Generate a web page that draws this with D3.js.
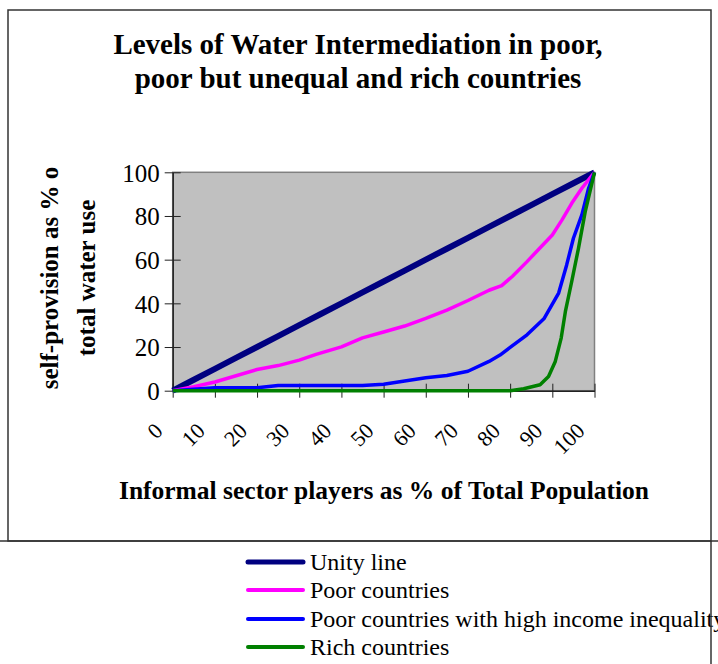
<!DOCTYPE html>
<html>
<head>
<meta charset="utf-8">
<script src="https://cdn.jsdelivr.net/npm/d3@7"></script>
<style>
html,body{margin:0;padding:0;background:#fff;overflow:hidden;}
svg{display:block;}
text{font-family:"Liberation Serif","DejaVu Serif",serif;fill:#000;}
</style>
</head>
<body>
<svg id="chart" width="718" height="664"></svg>
<script>
// ---- data ----
const titleLines = ["Levels of Water Intermediation in poor,", "poor but unequal and rich countries"];
const yTitleLines = ["self-provision as % o", "total water use"];
const xTitle = "Informal sector players as % of Total Population";
const xTicks = [0, 10, 20, 30, 40, 50, 60, 70, 80, 90, 100];
const yTicks = [0, 20, 40, 60, 80, 100];

const seriesNames = ["Unity line", "Poor countries", "Poor countries with high income inequality", "Rich countries"];
const seriesColors = ["#000080", "#ff00ff", "#0000ff", "#008000"];

const unityX = [0, 5, 10, 15, 20, 25, 30, 35, 40, 45, 50, 55, 60, 65, 70, 75, 80, 85, 90, 95, 100];
const unityY = [0, 5, 10, 15, 20, 25, 30, 35, 40, 45, 50, 55, 60, 65, 70, 75, 80, 85, 90, 95, 100];

const poorX = [0, 5, 10, 20, 25, 30, 34, 40, 45, 50, 55, 60, 65, 70, 75, 78, 80.5, 84, 87, 90, 92.3, 94.6, 97, 100];
const poorY = [0, 1.8, 4.0, 9.7, 11.5, 14.0, 16.6, 20.1, 24.2, 26.9, 29.6, 33.1, 36.9, 41.3, 46.0, 48.1, 52.3, 59.1, 65.2, 71.3, 78.2, 85.8, 92.7, 100];

const ineqX = [0, 10, 20, 25, 45, 50, 55, 60, 65, 70, 75, 77.6, 80, 84, 88, 91.5, 93.4, 95, 97, 98.6, 100];
const ineqY = [0, 1.3, 1.3, 2.4, 2.4, 3.0, 4.4, 5.9, 7.0, 8.9, 13.4, 16.3, 19.8, 25.6, 32.9, 44.7, 57.6, 69.8, 80.5, 92.7, 100];

const richX = [0, 20, 40, 60, 80, 83.2, 87.1, 89.1, 90.7, 92.1, 93.1, 94.6, 96.2, 97.8, 100];
const richY = [0, 0, 0, 0, 0, 0.9, 2.7, 6.5, 13.4, 24.1, 36.3, 50.0, 65.2, 82.0, 100];

const seriesX = [unityX, poorX, ineqX, richX];
const seriesY = [unityY, poorY, ineqY, richY];
const seriesWidths = [6, 3.5, 3.5, 3.5];

// ---- layout ----
const svg = d3.select("#chart");
const plot = {left: 172.7, right: 594.5, top: 172.3, bottom: 390.7};

const x = d3.scaleLinear().domain([0, 100]).range([plot.left, plot.right]);
const y = d3.scaleLinear().domain([0, 100]).range([plot.bottom, plot.top]);

// title
svg.append("g").selectAll("text").data(titleLines).join("text")
  .attr("x", 358).attr("y", (d, i) => 54 + i * 34)
  .attr("text-anchor", "middle")
  .style("font-size", "29px").style("font-weight", "bold")
  .text(d => d);

// plot area
svg.append("rect")
  .attr("x", plot.left).attr("y", plot.top)
  .attr("width", plot.right - plot.left).attr("height", plot.bottom - plot.top)
  .attr("fill", "#c0c0c0").attr("stroke", "#808080").attr("stroke-width", 1.5);

// axes
const yAxis = d3.axisLeft(y).tickValues(yTicks).tickSizeInner(8).tickSizeOuter(0).tickPadding(5);
const gy = svg.append("g").attr("transform", `translate(${plot.left},0)`).call(yAxis);
gy.selectAll(".tick line").attr("x2", 8).attr("x1", -8).attr("stroke", "#222");
gy.select(".domain").attr("stroke", "#222").attr("stroke-width", 1.5);
gy.selectAll(".tick text").attr("x", -13).attr("dy", "0.35em")
  .style("font-family", '"Liberation Serif",serif').style("font-size", "25px").attr("fill", "#000");

const xAxis = d3.axisBottom(x).tickValues(xTicks).tickSizeInner(7).tickSizeOuter(0).tickFormat("");
const gx = svg.append("g").attr("transform", `translate(0,${plot.bottom})`).call(xAxis);
gx.selectAll(".tick line").attr("y1", -7).attr("y2", 7).attr("stroke", "#222");
gx.select(".domain").attr("stroke", "#222").attr("stroke-width", 1.5);

svg.append("g").selectAll("text").data(xTicks).join("text")
  .attr("transform", d => `translate(${x(d) - 14},${plot.bottom + 36}) rotate(-45)`)
  .attr("text-anchor", "end").attr("dy", "0.35em")
  .style("font-size", "22px")
  .text(d => d);

// lines
const line = d3.line().x(d => x(d[0])).y(d => y(d[1]));
seriesX.forEach((xs, i) => {
  const pts = xs.map((v, j) => [v, seriesY[i][j]]);
  svg.append("path").datum(pts)
    .attr("d", line)
    .attr("fill", "none")
    .attr("stroke", seriesColors[i])
    .attr("stroke-width", seriesWidths[i])
    .attr("stroke-linejoin", "round");
});

// axis titles
svg.append("g").selectAll("text").data(yTitleLines).join("text")
  .attr("transform", (d, i) => `translate(${58 + i * 37},${278}) rotate(-90)`)
  .attr("text-anchor", "middle")
  .style("font-size", "25px").style("font-weight", "bold")
  .text(d => d);

svg.append("text")
  .attr("x", 384).attr("y", 499)
  .attr("text-anchor", "middle")
  .style("font-size", "25.5px").style("font-weight", "bold")
  .text(xTitle);

// legend
const legRows = [562, 590, 619, 647];
const lg = svg.append("g");
seriesNames.forEach((name, i) => {
  lg.append("line")
    .attr("x1", 248).attr("x2", 303).attr("y1", legRows[i]).attr("y2", legRows[i])
    .attr("stroke", seriesColors[i]).attr("stroke-width", i === 0 ? 5 : 4)
    .attr("stroke-linecap", "round");
  lg.append("text")
    .attr("x", 310).attr("y", legRows[i]).attr("dy", "0.35em")
    .style("font-size", "24px")
    .text(name);
});

// borders
svg.append("rect").attr("x", 8).attr("y", 10).attr("width", 703).attr("height", 531)
  .attr("fill", "none").attr("stroke", "#333").attr("stroke-width", 1.5);
svg.append("line").attr("x1", 0).attr("x2", 718).attr("y1", 541).attr("y2", 541)
  .attr("stroke", "#333").attr("stroke-width", 1.5);
svg.append("line").attr("x1", 711).attr("x2", 711).attr("y1", 541).attr("y2", 664)
  .attr("stroke", "#333").attr("stroke-width", 1.5);
</script>
</body>
</html>
